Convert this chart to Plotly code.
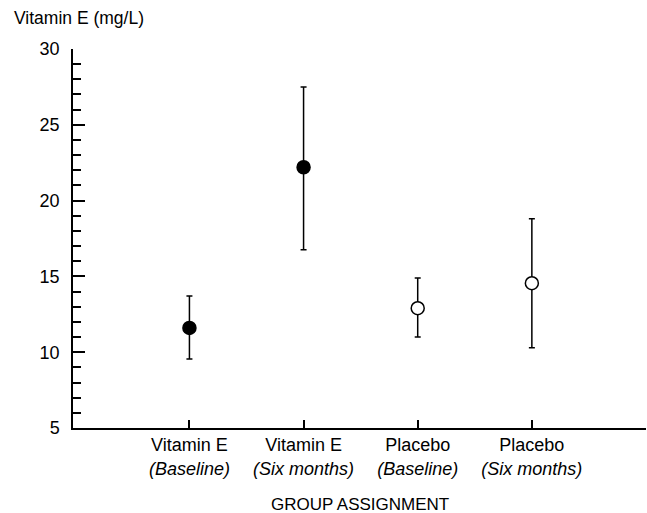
import plotly.graph_objects as go

groups = ["Vitamin E<br><i>(Baseline)</i>", "Vitamin E<br><i>(Six months)</i>",
          "Placebo<br><i>(Baseline)</i>", "Placebo<br><i>(Six months)</i>"]
positions = [1, 2, 3, 4]
means = [11.6, 22.2, 12.9, 14.55]
upper = [13.7, 27.5, 14.9, 18.8]
lower = [9.55, 16.75, 11.0, 10.3]
filled = [True, True, False, False]

FONT = "Liberation Sans, Arial, sans-serif"

fig = go.Figure()
for i in range(4):
    fig.add_trace(go.Scatter(
        x=[positions[i]], y=[means[i]], mode="markers",
        marker=dict(size=13, color="black" if filled[i] else "white",
                    line=dict(color="black", width=1.5), symbol="circle"),
        error_y=dict(type="data", symmetric=False,
                     array=[upper[i] - means[i]], arrayminus=[means[i] - lower[i]],
                     color="black", thickness=1.5, width=3),
        showlegend=False, cliponaxis=False,
    ))

fig.update_layout(
    width=647, height=513,
    margin=dict(l=73, r=1, t=49, b=85, autoexpand=False),
    paper_bgcolor="white", plot_bgcolor="white",
    font=dict(family=FONT, size=17, color="black"),
    xaxis=dict(range=[-0.02, 5.0], tickvals=positions + [5], ticktext=groups + [""],
               ticks="inside", ticklen=8, tickwidth=1.5, tickcolor="black",
               showline=True, linecolor="black", linewidth=1.5, showgrid=False,
               zeroline=False, tickfont=dict(size=18, family=FONT), automargin=False),
    yaxis=dict(range=[5, 30], tickvals=[5, 10, 15, 20, 25, 30],
               ticks="inside", ticklen=12, tickwidth=1.5, tickcolor="black",
               minor=dict(ticks="inside", ticklen=8, tickwidth=1.5, tickcolor="black", dtick=1, showgrid=False),
               showline=True, linecolor="black", linewidth=1.5, showgrid=False,
               zeroline=False, tickfont=dict(size=18, family=FONT), ticklabelstandoff=8,
               automargin=False),
    annotations=[
        dict(text="Vitamin E (mg/L)", x=0, y=1, xref="paper", yref="paper",
             xanchor="left", yanchor="middle", xshift=-61, yshift=31, showarrow=False,
             font=dict(size=17.5, family=FONT)),
        dict(text="GROUP ASSIGNMENT", x=0.5, y=0, xref="paper", yref="paper",
             xanchor="center", yanchor="middle", yshift=-76, showarrow=False,
             font=dict(size=17, family=FONT)),
    ],
)

fig.write_html("out.html", post_script="document.body.style.margin='0';",
               config={"displayModeBar": False})
